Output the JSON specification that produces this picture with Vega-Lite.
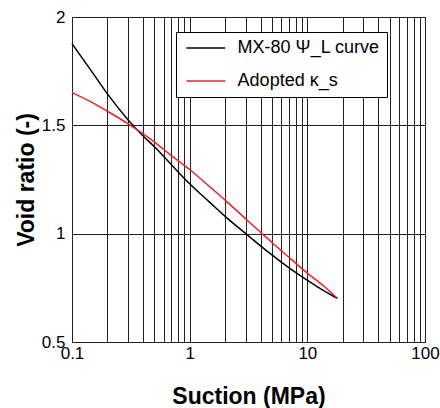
{
  "$schema": "https://vega.github.io/schema/vega-lite/v6.json",
  "width": 440,
  "height": 408,
  "autosize": {"type": "fit", "contains": "padding"},
  "padding": {"left": 15, "top": 8, "right": 0, "bottom": 0},
  "config": {
    "font": "Liberation Sans",
    "view": {"stroke": "black", "strokeWidth": 1},
    "axis": {"domain": false, "ticks": false, "gridColor": "#222", "gridOpacity": 1, "gridWidth": 1, "labelColor": "black", "titleColor": "black", "labelFontSize": 17, "titleFontSize": 23, "titleFontWeight": "bold"}
  },
  "data": {
    "values": [
      {"suction": 0.1, "e": 1.877, "series": "MX-80 Ψ_L curve"},
      {"suction": 0.15, "e": 1.742, "series": "MX-80 Ψ_L curve"},
      {"suction": 0.2, "e": 1.645, "series": "MX-80 Ψ_L curve"},
      {"suction": 0.3, "e": 1.525, "series": "MX-80 Ψ_L curve"},
      {"suction": 0.4, "e": 1.452, "series": "MX-80 Ψ_L curve"},
      {"suction": 0.5, "e": 1.402, "series": "MX-80 Ψ_L curve"},
      {"suction": 0.7, "e": 1.318, "series": "MX-80 Ψ_L curve"},
      {"suction": 1, "e": 1.23, "series": "MX-80 Ψ_L curve"},
      {"suction": 1.5, "e": 1.142, "series": "MX-80 Ψ_L curve"},
      {"suction": 2, "e": 1.08, "series": "MX-80 Ψ_L curve"},
      {"suction": 3, "e": 1.0, "series": "MX-80 Ψ_L curve"},
      {"suction": 5, "e": 0.902, "series": "MX-80 Ψ_L curve"},
      {"suction": 7, "e": 0.842, "series": "MX-80 Ψ_L curve"},
      {"suction": 10, "e": 0.785, "series": "MX-80 Ψ_L curve"},
      {"suction": 12, "e": 0.757, "series": "MX-80 Ψ_L curve"},
      {"suction": 14, "e": 0.735, "series": "MX-80 Ψ_L curve"},
      {"suction": 16, "e": 0.717, "series": "MX-80 Ψ_L curve"},
      {"suction": 18, "e": 0.702, "series": "MX-80 Ψ_L curve"},
      {"suction": 0.1, "e": 1.651, "series": "Adopted κ_s"},
      {"suction": 0.15, "e": 1.604, "series": "Adopted κ_s"},
      {"suction": 0.2, "e": 1.565, "series": "Adopted κ_s"},
      {"suction": 0.3, "e": 1.507, "series": "Adopted κ_s"},
      {"suction": 0.5, "e": 1.424, "series": "Adopted κ_s"},
      {"suction": 0.7, "e": 1.36, "series": "Adopted κ_s"},
      {"suction": 1, "e": 1.296, "series": "Adopted κ_s"},
      {"suction": 1.5, "e": 1.214, "series": "Adopted κ_s"},
      {"suction": 2, "e": 1.155, "series": "Adopted κ_s"},
      {"suction": 3, "e": 1.068, "series": "Adopted κ_s"},
      {"suction": 5, "e": 0.96, "series": "Adopted κ_s"},
      {"suction": 7, "e": 0.89, "series": "Adopted κ_s"},
      {"suction": 10, "e": 0.818, "series": "Adopted κ_s"},
      {"suction": 14, "e": 0.755, "series": "Adopted κ_s"},
      {"suction": 18, "e": 0.702, "series": "Adopted κ_s"}
    ]
  },
  "mark": {"type": "line", "strokeWidth": 1.5, "interpolate": "monotone"},
  "encoding": {
    "x": {
      "field": "suction", "type": "quantitative",
      "scale": {"type": "log", "domain": [0.1, 100], "nice": false},
      "axis": {
        "title": "Suction (MPa)",
        "values": [0.1, 0.2, 0.3, 0.4, 0.5, 0.6, 0.7, 0.8, 0.9, 1, 2, 3, 4, 5, 6, 7, 8, 9, 10, 20, 30, 40, 50, 60, 70, 80, 90, 100],
        "labelExpr": "indexof([0.1, 1, 10, 100], datum.value) >= 0 ? format(datum.value, '~g') : ''",
        "labelPadding": 3,
        "titlePadding": 24,
        "labelFlush": false,
        "labelOverlap": false
      }
    },
    "y": {
      "field": "e", "type": "quantitative",
      "scale": {"domain": [0.5, 2], "nice": false, "zero": false},
      "axis": {
        "title": "Void ratio (-)",
        "values": [0.5, 1, 1.5, 2],
        "format": "~g",
        "labelPadding": 7,
        "titlePadding": 3
      }
    },
    "color": {
      "field": "series", "type": "nominal",
      "scale": {"domain": ["MX-80 Ψ_L curve", "Adopted κ_s"], "range": ["black", "#ee2222"]},
      "legend": {
        "title": null,
        "orient": "none",
        "legendX": 104,
        "legendY": 15,
        "symbolType": "M-0.76,0H4.44",
        "symbolSize": 225,
        "symbolStrokeWidth": 1.5,
        "labelFontSize": 18,
        "labelColor": "black",
        "labelOffset": 36.6,
        "rowPadding": 15,
        "padding": 7,
        "strokeColor": "black",
        "fillColor": "white",
        "cornerRadius": 0
      }
    }
  }
}
